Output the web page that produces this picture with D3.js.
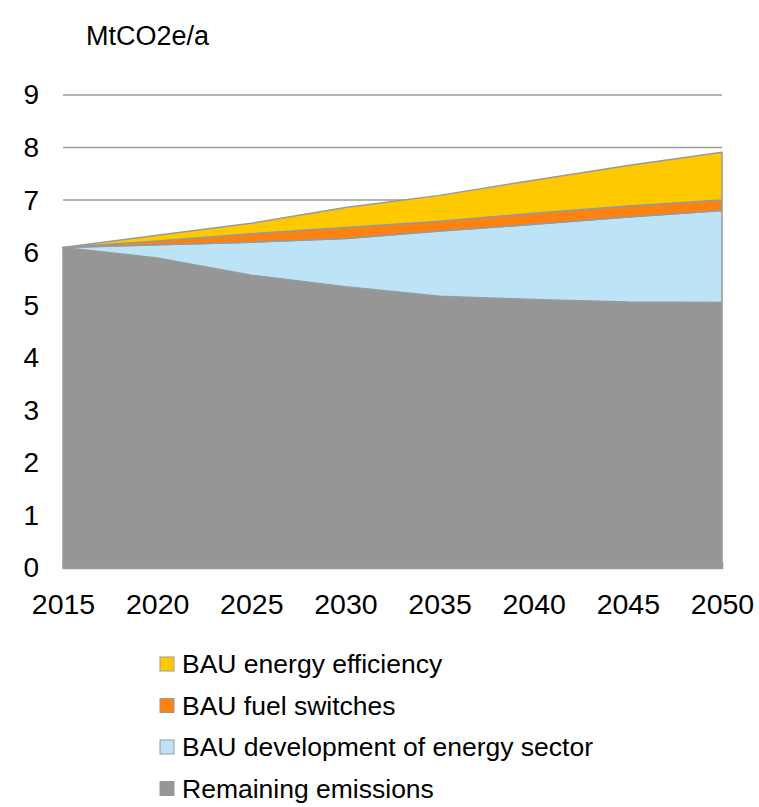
<!DOCTYPE html>
<html>
<head>
<meta charset="utf-8">
<script src="https://cdn.jsdelivr.net/npm/d3@7"></script>
<style>
  html, body { margin: 0; padding: 0; background: #fff; }
  svg { display: block; font-family: "Liberation Sans", Arial, sans-serif; }
</style>
</head>
<body>
<svg id="chart" width="759" height="807"></svg>
<script>
const years = [2015, 2020, 2025, 2030, 2035, 2040, 2045, 2050];
const remaining = [6.1, 5.9, 5.57, 5.35, 5.17, 5.11, 5.06, 5.05];
const development = [0, 0.25, 0.63, 0.92, 1.24, 1.43, 1.62, 1.75];
const fuelSwitches = [0, 0.07, 0.16, 0.21, 0.19, 0.21, 0.21, 0.20];
const efficiency = [0, 0.11, 0.20, 0.38, 0.49, 0.63, 0.77, 0.91];
const yTicks = [0, 1, 2, 3, 4, 5, 6, 7, 8, 9];
const seriesNames = ["Remaining emissions", "BAU development of energy sector", "BAU fuel switches", "BAU energy efficiency"];
const seriesColors = ["#969696", "#bde3f6", "#fd8210", "#ffc900"];
const unitLabel = "MtCO2e/a";

(function () {
const svg = d3.select("#chart");
const pLeft = 63, pRight = 722, pTop = 95, pBottom = 568;

const x = d3.scaleLinear().domain([2015, 2050]).range([pLeft, pRight]);
const y = d3.scaleLinear().domain([0, 9]).range([pBottom, pTop]);

const table = years.map((yr, i) => ({
  year: yr,
  s0: remaining[i], s1: development[i], s2: fuelSwitches[i], s3: efficiency[i]
}));
const stacked = d3.stack().keys(["s0", "s1", "s2", "s3"])(table);

// gridlines
svg.append("g").selectAll("line").data(yTicks.filter(d => d > 0)).join("line")
  .attr("x1", pLeft).attr("x2", pRight)
  .attr("y1", d => y(d)).attr("y2", d => y(d))
  .attr("stroke", "#9a9a9a").attr("stroke-width", 1.5);

const area = d3.area()
  .x(d => x(d.data.year))
  .y0(d => y(d[0]))
  .y1(d => y(d[1]));

svg.append("g").selectAll("path").data(stacked).join("path")
  .attr("d", area)
  .attr("fill", (d, i) => seriesColors[i])
  .attr("stroke", "#999999")
  .attr("stroke-width", 1.5)
  .attr("stroke-linejoin", "round");

// x axis
const xAxis = d3.axisBottom(x).tickValues(years).tickFormat(d3.format("d"))
  .tickSize(-6).tickPadding(26);
const gx = svg.append("g").attr("transform", `translate(0,${pBottom})`).call(xAxis);
gx.select(".domain").attr("stroke", "#9a9a9a").attr("stroke-width", 1.5);
gx.selectAll(".tick line").attr("stroke", "#9a9a9a").attr("stroke-width", 1.2);
gx.selectAll("text").attr("font-size", 28.5).attr("fill", "#000")
  .attr("font-family", "Liberation Sans, Arial, sans-serif").attr("dy", "0.71em");

// y labels
const yAxis = d3.axisLeft(y).tickValues(yTicks).tickSize(0).tickPadding(0);
const gy = svg.append("g").attr("transform", `translate(39,0)`).call(yAxis);
gy.select(".domain").remove();
gy.selectAll("text").attr("font-size", 28).attr("fill", "#000")
  .attr("font-family", "Liberation Sans, Arial, sans-serif");

// unit label
svg.append("text").attr("x", 86).attr("y", 45).attr("font-size", 27)
  .attr("fill", "#000").text(unitLabel);

// legend (reverse order)
const legendOrder = [3, 2, 1, 0];
const lg = svg.append("g").selectAll("g").data(legendOrder).join("g")
  .attr("transform", (d, i) => `translate(160,${664 + i * 41.5})`);
lg.append("rect").attr("x", 0).attr("y", -7).attr("width", 14).attr("height", 14)
  .attr("fill", d => seriesColors[d]).attr("stroke", "#999").attr("stroke-width", 1);
lg.append("text").attr("x", 22).attr("y", 0).attr("dy", "0.35em")
  .attr("font-size", 26.5).attr("fill", "#000").text(d => seriesNames[d]);
})();
</script>
</body>
</html>
